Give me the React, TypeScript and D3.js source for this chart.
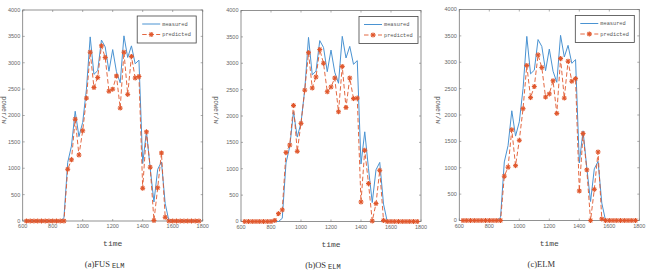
import React from 'react'
import { scaleLinear, line } from 'd3'

const width = 651
const height = 271

// x positions of the samples (time)
const times = [
  625, 650, 675, 700, 725, 750, 775, 800, 825, 850, 875, 900, 925, 950, 975, 1000,
  1025, 1050, 1075, 1100, 1125, 1150, 1175, 1200, 1225, 1250, 1275, 1300, 1325, 1350,
  1375, 1400, 1425, 1450, 1475, 1500, 1525, 1550, 1575, 1600, 1625, 1650, 1675, 1700,
  1725, 1750, 1775,
]

const measured = [
  0, 0, 0, 0, 0, 0, 0, 0, 0, 0, 60, 1110, 1420, 2080, 1600, 1870,
  2500, 3490, 2780, 2850, 3430, 3300, 2840, 3250, 2830, 2620, 3510, 3100, 3320, 2980,
  3050, 1090, 1700, 1000, 360, 980, 1120, 330, 0, 0, 0, 0, 0, 0,
  0, 0, 0,
]

const predictedFOS = [
  0, 0, 0, 0, 0, 0, 0, 0, 0, 0, 0, 980, 1160, 1930, 1250, 1710,
  2330, 3200, 2530, 2720, 3320, 3100, 2460, 2500, 2750, 2140, 3200, 2400, 3120, 2710,
  2740, 620, 1690, 1020, 10, 630, 1290, 70, 0, 0, 0, 0, 0, 0,
  0, 0, 0,
]

const predictedOS = [
  0, 0, 0, 0, 0, 0, 0, 0, 20, 150, 220, 1310, 1450, 2200, 1330, 1860,
  2490, 3200, 2530, 2740, 3260, 3000, 2460, 2550, 2720, 2080, 2940, 2160, 2720, 2330,
  2340, 370, 1350, 720, 10, 340, 970, 20, 0, 0, 0, 0, 0, 0,
  0, 0, 0,
]

const predictedELM = [
  0, 0, 0, 0, 0, 0, 0, 0, 0, 0, 0, 840, 1010, 1720, 1040, 1520,
  2120, 2940, 2330, 2540, 3140, 2900, 2340, 2400, 2650, 2030, 3070, 2320, 3020, 2640,
  2690, 560, 1650, 960, 0, 590, 1300, 30, 0, 0, 0, 0, 0, 0,
  0, 0, 0,
]

const xTicks = [600, 800, 1000, 1200, 1400, 1600, 1800]
const yTicks = [0, 500, 1000, 1500, 2000, 2500, 3000, 3500, 4000]
const legendLabels = ['measured', 'predicted']

const panels = [
  { id: 'a', left: 22.7, top: 10, pred: predictedFOS, cap: '(a)FUS', sub: 'ELM', ylabX: 2, legRight: 6.5 },
  { id: 'b', left: 241, top: 10.5, pred: predictedOS, cap: '(b)OS', sub: 'ELM', ylabX: 214, legRight: 3 },
  { id: 'c', left: 459.3, top: 9.5, pred: predictedELM, cap: '(c)ELM', sub: '', ylabX: 436, legRight: 5 },
]

const plotW = 180
const plotH = 211
const blue = '#4a93d2'
const red = '#e0572c'
const axisColor = '#777'

function Star({ x, y }: { x: number; y: number }) {
  const r = 2.5
  const d = r * 0.72
  return (
    <g stroke={red} strokeWidth={1.1}>
      <line x1={x - r} y1={y} x2={x + r} y2={y} />
      <line x1={x} y1={y - r} x2={x} y2={y + r} />
      <line x1={x - d} y1={y - d} x2={x + d} y2={y + d} />
      <line x1={x - d} y1={y + d} x2={x + d} y2={y - d} />
    </g>
  )
}

function Panel({ p }: { p: typeof panels[number] }) {
  const x = scaleLinear().domain([600, 1800]).range([0, plotW])
  const y = scaleLinear().domain([0, 4000]).range([plotH, 0])
  const path = line<number>().x((_, i) => x(times[i])).y(d => y(d))
  const legW = 59
  const legH = 27
  const lx = plotW - p.legRight - legW
  const ly = 6
  return (
    <g>
      <text
        transform={`translate(${p.ylabX},110) rotate(90)`}
        textAnchor="middle"
        fontFamily="Liberation Mono, monospace"
        fontSize={6.5}
        fill="#555"
      >
        power/w
      </text>
      <g transform={`translate(${p.left},${p.top})`}>
        <rect x={0} y={0} width={plotW} height={plotH} fill="white" stroke={axisColor} strokeWidth={0.8} />
        {xTicks.map(t => (
          <g key={t}>
            <line x1={x(t)} x2={x(t)} y1={plotH} y2={plotH - 2} stroke={axisColor} strokeWidth={0.6} />
            <line x1={x(t)} x2={x(t)} y1={0} y2={2} stroke={axisColor} strokeWidth={0.6} />
            <text x={x(t)} y={plotH + 7} textAnchor="middle" fontFamily="Liberation Sans Narrow, Liberation Sans, sans-serif" fontSize={5.5} fill="#666">
              {t}
            </text>
          </g>
        ))}
        {yTicks.map(t => (
          <g key={t}>
            <line x1={0} x2={2} y1={y(t)} y2={y(t)} stroke={axisColor} strokeWidth={0.6} />
            <line x1={plotW} x2={plotW - 2} y1={y(t)} y2={y(t)} stroke={axisColor} strokeWidth={0.6} />
            <text x={-2.5} y={y(t)} dy="0.35em" textAnchor="end" fontFamily="Liberation Sans Narrow, Liberation Sans, sans-serif" fontSize={5.5} fill="#666">
              {t}
            </text>
          </g>
        ))}
        <path d={path(measured) || ''} fill="none" stroke={blue} strokeWidth={1} />
        <path d={path(p.pred) || ''} fill="none" stroke={red} strokeWidth={0.9} strokeDasharray="4.5,2.5" />
        {p.pred.map((v, i) => (
          <Star key={i} x={x(times[i])} y={y(v)} />
        ))}
        <g transform={`translate(${lx},${ly})`}>
          <rect x={0} y={0} width={legW} height={legH} fill="white" stroke="#444" strokeWidth={0.8} />
          <line x1={5} x2={23} y1={8} y2={8} stroke={blue} strokeWidth={1} />
          <line x1={5} x2={23} y1={18.5} y2={18.5} stroke={red} strokeWidth={0.9} strokeDasharray="4.5,2.5" />
          <Star x={14} y={18.5} />
          {legendLabels.map((l, i) => (
            <text key={l} x={25} y={8 + i * 10.5} dy="0.35em" fontFamily="Liberation Mono, monospace" fontSize={5.3} fill="#555">
              {l}
            </text>
          ))}
        </g>
        <text x={plotW / 2} y={plotH + 25} textAnchor="middle" fontFamily="Liberation Mono, monospace" fontSize={8} fill="#444">
          time
        </text>
        <text x={plotW / 2 - 8} y={plotH + 46} textAnchor="middle" fontFamily="Liberation Serif, serif" fontSize={8.5} fill="#333">
          {p.cap}
          {p.sub && (
            <tspan dx={2} dy={1} fontFamily="Liberation Mono, monospace" fontSize={7}>
              {p.sub}
            </tspan>
          )}
        </text>
      </g>
    </g>
  )
}

export default function App() {
  return (
    <svg width={width} height={height} style={{ position: 'absolute', left: 0, top: 0, background: 'white' }}>
      {panels.map(p => (
        <Panel key={p.id} p={p} />
      ))}
    </svg>
  )
}
